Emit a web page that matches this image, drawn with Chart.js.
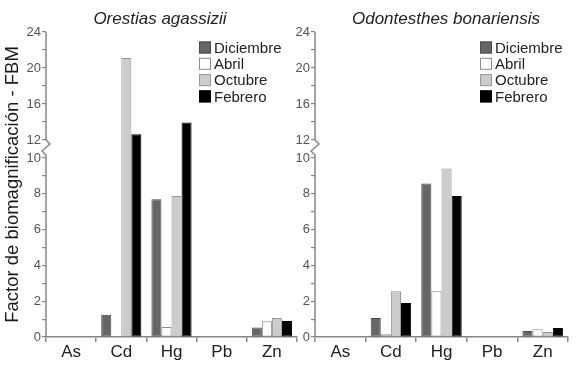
<!DOCTYPE html>
<html>
<head>
<meta charset="utf-8">
<script src="https://cdn.jsdelivr.net/npm/chart.js@4/dist/chart.umd.min.js"></script>
<style>
  body { margin: 0; background: #fff; }
  #wrap { position: relative; width: 576px; height: 372px; overflow: hidden; }
  canvas { position: absolute; top: 0; }
  #left { left: 0; }
  #right { left: 288px; }
</style>
</head>
<body>
<div id="wrap">
  <canvas id="left" width="300" height="372"></canvas>
  <canvas id="right" width="288" height="372"></canvas>
</div>
<script>
const elements = ["As", "Cd", "Hg", "Pb", "Zn"];
const months = ["Diciembre", "Abril", "Octubre", "Febrero"];

// Orestias agassizii
const orestias_dic = [0, 1.25, 7.7, 0, 0.53];
const orestias_abr = [0, 0, 0.56, 0, 0.88];
const orestias_oct = [0, 21.1, 7.88, 0, 1.06];
const orestias_feb = [0, 12.65, 13.95, 0, 0.9];

// Odontesthes bonariensis
const odontesthes_dic = [0, 1.06, 8.57, 0, 0.34];
const odontesthes_abr = [0, 0.15, 2.55, 0, 0.43];
const odontesthes_oct = [0, 2.55, 9.41, 0, 0.28];
const odontesthes_feb = [0, 1.9, 7.88, 0, 0.5];

const yTickValues = [0, 1, 2, 3, 4, 5, 6, 7, 8, 9, 10, 12, 14, 16, 18, 20, 22, 24];
const yLabelValues = [0, 2, 4, 6, 8, 10, 12, 16, 20, 24];

const fillColors = ["#666666", "#ffffff", "#cccccc", "#000000"];
const lineColors = ["#4a4a4a", "#8c8c8c", "#999999", "#000000"];

const FONT = "'Liberation Sans', Arial, sans-serif";

// linear axis with a break: 0..breakAt gets lowShare of the height
class BrokenScale extends Chart.LinearScale {
  getPixelForValue(value) {
    if (value === null || value === undefined) return NaN;
    const o = this.options;
    let d;
    if (value <= o.breakAt) d = (value - this.min) / (o.breakAt - this.min) * o.lowShare;
    else d = o.lowShare + (value - o.breakAt) / (this.max - o.breakAt) * (1 - o.lowShare);
    return this.getPixelForDecimal(d);
  }
  getValueForPixel(pixel) {
    const o = this.options;
    const d = this.getDecimalForPixel(pixel);
    if (d <= o.lowShare) return this.min + d / o.lowShare * (o.breakAt - this.min);
    return o.breakAt + (d - o.lowShare) / (1 - o.lowShare) * (this.max - o.breakAt);
  }
}
BrokenScale.id = "broken";
BrokenScale.defaults = { ticks: { callback: Chart.Ticks.formatters.numeric } };
Chart.register(BrokenScale);

// panel title, legend box and the broken y axis line
const panelPlugin = {
  id: "panel",
  afterDraw(chart, args, opts) {
    const ctx = chart.ctx;
    const y = chart.scales.y;
    const area = chart.chartArea;
    ctx.save();

    // title
    ctx.font = "italic 17px " + FONT;
    ctx.fillStyle = "#222";
    ctx.textAlign = "center";
    ctx.textBaseline = "middle";
    ctx.fillText(opts.title, opts.titleX, 19);

    // legend
    ctx.font = "15px " + FONT;
    ctx.textAlign = "left";
    chart.data.datasets.forEach((ds, i) => {
      const cy = 47.5 + i * 16.3;
      ctx.fillStyle = ds.backgroundColor;
      ctx.fillRect(opts.legendX, cy - 6, 12, 12);
      ctx.strokeStyle = ds.borderColor;
      ctx.lineWidth = 1;
      ctx.strokeRect(opts.legendX + 0.5, cy - 5.5, 11, 11);
      ctx.fillStyle = "#222";
      ctx.fillText(ds.label, opts.legendX + 15, cy + 1);
    });

    // y axis line with break symbol
    const x = area.left;
    const p12 = y.getPixelForValue(12);
    const p10 = y.getPixelForValue(10);
    ctx.strokeStyle = "#888";
    ctx.lineWidth = 1.5;
    ctx.beginPath();
    ctx.moveTo(x, area.top);
    ctx.lineTo(x, p12);
    ctx.lineTo(x + 4, p12 + 4);
    ctx.lineTo(x - 4, p12 + 11);
    ctx.lineTo(x, p10 - 3);
    ctx.lineTo(x, area.bottom);
    ctx.stroke();
    ctx.restore();
  }
};

function makeDatasets(values) {
  return values.map((data, i) => ({
    label: months[i],
    data: data,
    backgroundColor: fillColors[i],
    borderColor: lineColors[i],
    borderWidth: 1,
    borderSkipped: false,
    categoryPercentage: 0.8,
    barPercentage: 1.0,
  }));
}

function makeChart(id, values, cfg) {
  const yTitle = cfg.yTitle || "";
  return new Chart(document.getElementById(id), {
    type: "bar",
    data: {
      labels: elements,
      datasets: makeDatasets(values),
    },
    options: {
      responsive: false,
      animation: false,
      devicePixelRatio: 1,
      layout: { padding: { top: 32, right: cfg.padRight, left: 0, bottom: 0 } },
      plugins: {
        legend: { display: false },
        tooltip: { enabled: false },
        panel: { title: cfg.title, titleX: cfg.titleX, legendX: cfg.legendX },
      },
      scales: {
        x: {
          type: "category",
          grid: {
            display: true,
            offset: true,
            drawOnChartArea: false,
            drawTicks: true,
            tickLength: 5,
            color: "#888",
            lineWidth: 1.5,
          },
          border: { display: true, color: "#888", width: 1.5 },
          ticks: { color: "#222", font: { family: FONT, size: 17 }, padding: 0 },
          afterFit: (scale) => { scale.height = 35; },
        },
        y: {
          type: "broken",
          min: 0,
          max: 24,
          breakAt: 10,
          lowShare: 179 / 305,
          afterBuildTicks: (scale) => {
            scale.ticks = yTickValues.map((v) => ({ value: v }));
          },
          grid: {
            display: true,
            drawOnChartArea: false,
            drawTicks: true,
            tickLength: 4,
            color: "#888",
            lineWidth: 1.2,
          },
          border: { display: false },
          ticks: {
            autoSkip: false,
            color: "#555",
            padding: 1,
            font: { family: FONT, size: 13 },
            callback: (v) => (yLabelValues.includes(v) ? String(v) : ""),
          },
          title: {
            display: yTitle !== "",
            text: yTitle,
            color: "#1a1a1a",
            font: { family: FONT, size: 18.5 },
            padding: { top: 2, bottom: 0 },
          },
          afterFit: (scale) => { scale.width = cfg.yWidth; },
        },
      },
    },
    plugins: [panelPlugin],
  });
}

makeChart("left", [orestias_dic, orestias_abr, orestias_oct, orestias_feb], {
  title: "Orestias agassizii",
  titleX: 160,
  legendX: 199,
  padRight: 3,
  yWidth: 46,
  yTitle: "Factor de biomagnificación - FBM",
});

makeChart("right", [odontesthes_dic, odontesthes_abr, odontesthes_oct, odontesthes_feb], {
  title: "Odontesthes bonariensis",
  titleX: 158,
  legendX: 192,
  padRight: 8,
  yWidth: 27,
});
</script>
</body>
</html>
